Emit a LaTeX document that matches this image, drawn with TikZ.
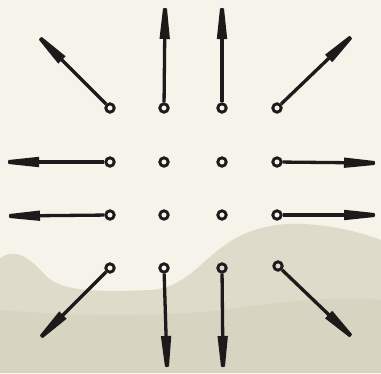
\documentclass[tikz,border=0pt]{standalone}
\usetikzlibrary{arrows.meta}
\definecolor{paper}{HTML}{F6F3EA}
\definecolor{hill}{HTML}{DEDBCA}
\definecolor{hilldark}{HTML}{D3D0BB}
\definecolor{ink}{HTML}{1C1A1A}
\pgfdeclarearrow{
  name = TaperHead,
  setup code = {
    \pgfarrowssettipend{0pt}
    \pgfarrowssetlineend{-26pt}
    \pgfarrowssetbackend{-31pt}
    \pgfarrowshullpoint{0pt}{2pt}
    \pgfarrowshullpoint{0pt}{-2pt}
    \pgfarrowshullpoint{-31pt}{5.2pt}
    \pgfarrowshullpoint{-31pt}{-5.2pt}
  },
  drawing code = {
    \pgfpathmoveto{\pgfqpoint{-0.6pt}{2pt}}
    \pgfpathcurveto{\pgfqpoint{0.4pt}{1.6pt}}{\pgfqpoint{0.4pt}{-1.6pt}}{\pgfqpoint{-0.6pt}{-2pt}}
    \pgfpathlineto{\pgfqpoint{-29pt}{-5pt}}
    \pgfpathlineto{\pgfqpoint{-31pt}{-5.2pt}}
    \pgfpathlineto{\pgfqpoint{-31pt}{5.2pt}}
    \pgfpathlineto{\pgfqpoint{-29pt}{5pt}}
    \pgfpathclose
    \pgfusepathqfill
  }
}
\tikzset{
  dot/.style={circle, draw=ink, line width=2.9pt, minimum size=8.4pt, inner sep=0pt},
  ray/.style={draw=ink, line width=3.3pt, -{TaperHead}, ink}
}
\begin{document}
\begin{tikzpicture}[x=1pt, y=-1pt]
\useasboundingbox (0,0) rectangle (381,373);
% background
\fill[paper] (0,0) rectangle (381,373);
\fill[hill] (0,258) .. controls (12,250) and (25,252) .. (45,275)
  .. controls (60,292) and (100,292) .. (150,290)
  .. controls (185,288) and (200,262) .. (225,245)
  .. controls (245,230) and (275,222) .. (305,224)
  .. controls (335,226) and (360,232) .. (381,240)
  -- (381,373) -- (0,373) -- cycle;
\fill[hilldark, opacity=0.6] (0,310) .. controls (60,315) and (150,318) .. (220,310)
  .. controls (280,302) and (340,295) .. (381,300) -- (381,373) -- (0,373) -- cycle;
% grid of dots
\node[dot] (c11) at (110,108) {};
\node[dot] (c12) at (164,108) {};
\node[dot] (c13) at (222,108) {};
\node[dot] (c14) at (277,108) {};
\node[dot] (c21) at (110,162) {};
\node[dot] (c22) at (164,162) {};
\node[dot] (c23) at (222,162) {};
\node[dot] (c24) at (277,162) {};
\node[dot] (c31) at (110,215) {};
\node[dot] (c32) at (164,215) {};
\node[dot] (c33) at (222,215) {};
\node[dot] (c34) at (277,215) {};
\node[dot] (c41) at (110,268) {};
\node[dot] (c42) at (164,268) {};
\node[dot] (c43) at (222,268) {};
\node[dot] (c44) at (278,266) {};
% arrow ends
\coordinate (e11) at (40,38);
\coordinate (e12) at (165,8);
\coordinate (e13) at (222,8);
\coordinate (e14) at (351,37);
\coordinate (e21) at (8,162);
\coordinate (e24) at (375,163);
\coordinate (e31) at (9,216);
\coordinate (e34) at (375,215);
\coordinate (e41) at (41,337);
\coordinate (e42) at (167,367);
\coordinate (e43) at (223,367);
\coordinate (e44) at (351,336);
% rays
\foreach \n in {11,12,13,14,21,24,31,34,41,42,43,44}
  \draw[ray] (c\n) -- (e\n);
\end{tikzpicture}
\end{document}
